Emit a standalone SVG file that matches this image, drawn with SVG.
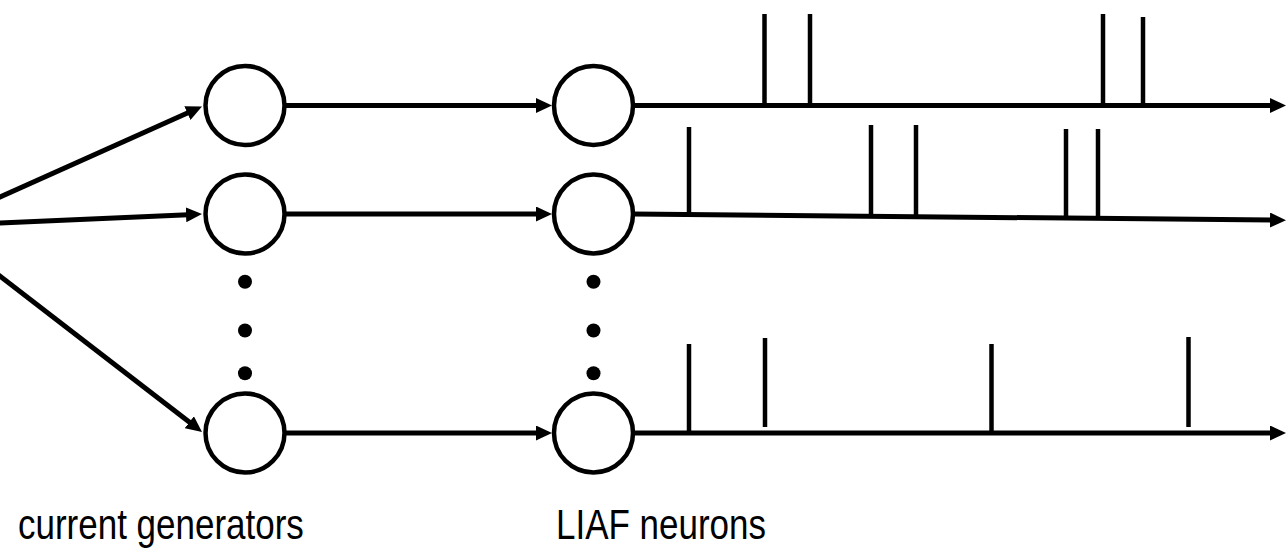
<svg xmlns="http://www.w3.org/2000/svg" width="1286" height="548" viewBox="0 0 1286 548">
  <style>
    .node { fill: #fff; stroke: #000; stroke-width: 4.5; }
    .dot { fill: #000; }
    .wire { fill: none; stroke: #000; stroke-width: 5; }
    .spike { fill: none; stroke: #000; stroke-width: 4.5; }
    .label { font-family: "Liberation Sans", Arial, sans-serif; font-size: 35px; fill: #000; }
  </style>
  <defs>
    <marker id="arrow" markerUnits="userSpaceOnUse" markerWidth="16" markerHeight="15" refX="8" refY="7.5" orient="auto" viewBox="0 0 16 15">
      <path d="M0,0 L16,7.5 L0,15 z" fill="#000"/>
    </marker>
  </defs>

  <rect width="1286" height="548" fill="#fff"/>

  <!-- connectors -->
  <g id="connectors">
    <!-- fan-in to the current generators -->
    <line class="wire" x1="-65" y1="226" x2="194.7" y2="109.8" marker-end="url(#arrow)"/>
    <line class="wire" x1="-65" y1="226" x2="194" y2="214.4" marker-end="url(#arrow)"/>
    <line class="wire" x1="-65" y1="226" x2="195.7" y2="427.1" marker-end="url(#arrow)"/>
    <!-- generators to neurons -->
    <line class="wire" x1="285" y1="105.5" x2="544" y2="105.5" marker-end="url(#arrow)"/>
    <line class="wire" x1="285" y1="214" x2="544" y2="214" marker-end="url(#arrow)"/>
    <line class="wire" x1="285" y1="433" x2="544" y2="433" marker-end="url(#arrow)"/>
    <!-- spike train outputs -->
    <line class="wire" x1="633" y1="105.5" x2="1278" y2="105.5" marker-end="url(#arrow)"/>
    <line class="wire" x1="633" y1="214" x2="1278" y2="220.1" marker-end="url(#arrow)"/>
    <line class="wire" x1="633" y1="433" x2="1278" y2="433" marker-end="url(#arrow)"/>
  </g>

  <!-- spikes -->
  <g id="spikes-row1">
    <line class="spike" x1="764.5" y1="14" x2="764.5" y2="105"/>
    <line class="spike" x1="810" y1="14" x2="810" y2="105"/>
    <line class="spike" x1="1103" y1="14" x2="1103" y2="105"/>
    <line class="spike" x1="1143" y1="17" x2="1143" y2="105"/>
  </g>
  <g id="spikes-row2">
    <line class="spike" x1="689" y1="127" x2="689" y2="214.5"/>
    <line class="spike" x1="871" y1="125" x2="871" y2="216.2"/>
    <line class="spike" x1="916" y1="125" x2="916" y2="216.7"/>
    <line class="spike" x1="1066" y1="129" x2="1066" y2="218.1"/>
    <line class="spike" x1="1098" y1="129" x2="1098" y2="218.4"/>
  </g>
  <g id="spikes-row3">
    <line class="spike" x1="689" y1="344" x2="689" y2="433"/>
    <line class="spike" x1="765" y1="338" x2="765" y2="427"/>
    <line class="spike" x1="991.5" y1="344" x2="991.5" y2="433"/>
    <line class="spike" x1="1188.5" y1="337" x2="1188.5" y2="427"/>
  </g>

  <!-- current generators -->
  <g id="generator-1"><circle class="node" cx="245" cy="105.5" r="39.5"/></g>
  <g id="generator-2"><circle class="node" cx="245" cy="214" r="39.5"/></g>
  <g id="generator-ellipsis">
    <circle class="dot" cx="245" cy="281.7" r="7"/>
    <circle class="dot" cx="245" cy="330.5" r="7"/>
    <circle class="dot" cx="245" cy="373.3" r="7"/>
  </g>
  <g id="generator-n"><circle class="node" cx="245" cy="433" r="39.5"/></g>

  <!-- LIAF neurons -->
  <g id="neuron-1"><circle class="node" cx="593.5" cy="105.5" r="39.5"/></g>
  <g id="neuron-2"><circle class="node" cx="593.5" cy="214" r="39.5"/></g>
  <g id="neuron-ellipsis">
    <circle class="dot" cx="593.5" cy="281.7" r="7"/>
    <circle class="dot" cx="593.5" cy="330.5" r="7"/>
    <circle class="dot" cx="593.5" cy="373.3" r="7"/>
  </g>
  <g id="neuron-n"><circle class="node" cx="593.5" cy="433" r="39.5"/></g>

  <!-- labels (slightly condensed lettering) -->
  <g id="labels">
    <text class="label" transform="translate(18,539) scale(1,1.2)">current generators</text>
    <text class="label" transform="translate(556,539) scale(1,1.2)">LIAF neurons</text>
  </g>
</svg>
